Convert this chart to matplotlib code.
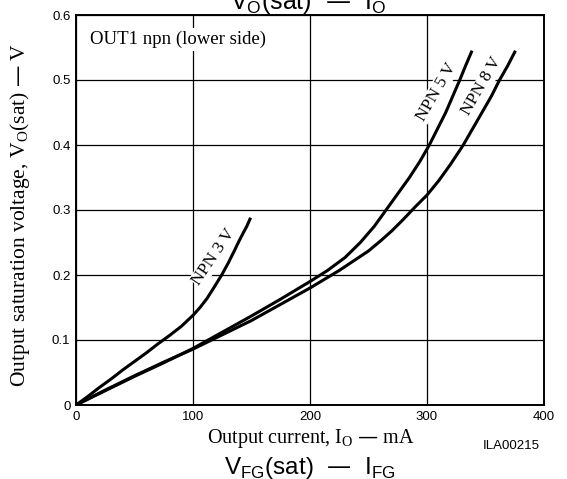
"""
VO(sat) - IO characteristic, OUT1 npn (lower side).
"""
import matplotlib
matplotlib.use("Agg")
import matplotlib.pyplot as plt

# -- Data ----------------------------------------------------------------------
I_3V = [0, 10, 20, 30, 40, 50, 60, 70, 80, 90, 100, 106, 112, 118, 124.5,
        130, 135, 139, 143, 146, 148.7]
V_3V = [0, 0.013, 0.027, 0.040, 0.054, 0.067, 0.080, 0.094, 0.107, 0.121,
        0.138, 0.150, 0.164, 0.181, 0.200, 0.218, 0.236, 0.251, 0.265, 0.275, 0.286]

I_5V = [0, 25, 50, 75, 100, 125, 150, 175, 200, 215, 230, 243, 255, 265, 275,
        285, 294, 302, 309, 316, 322, 328, 333, 338]
V_5V = [0, 0.022, 0.044, 0.065, 0.087, 0.112, 0.137, 0.163, 0.190, 0.207,
        0.227, 0.250, 0.275, 0.300, 0.325, 0.350, 0.375, 0.400, 0.425, 0.450,
        0.475, 0.500, 0.522, 0.543]

I_8V = [0, 25, 50, 75, 100, 125, 150, 175, 200, 225, 250, 260, 270, 280, 290,
        300, 310, 320, 331, 339, 347, 355, 362, 369, 375]
V_8V = [0, 0.023, 0.045, 0.066, 0.086, 0.108, 0.130, 0.155, 0.180, 0.207,
        0.237, 0.252, 0.268, 0.286, 0.305, 0.323, 0.345, 0.370, 0.400, 0.425,
        0.450, 0.475, 0.500, 0.522, 0.543]

X_TICKS = [0, 100, 200, 300, 400]
Y_TICKS = [0, 0.1, 0.2, 0.3, 0.4, 0.5, 0.6]
Y_TICK_LABELS = ["0", "0.1", "0.2", "0.3", "0.4", "0.5", "0.6"]

SERIF = "Liberation Serif"
SANS = "Liberation Sans"

# -- Plot ----------------------------------------------------------------------
fig = plt.figure(figsize=(5.67, 4.79), dpi=100)
ax = fig.add_axes([76 / 567, 1 - 405 / 479, 468 / 567, 390 / 479])

ax.set_xlim(0, 400)
ax.set_ylim(0, 0.6)
ax.set_xticks(X_TICKS)
ax.set_xticklabels([str(t) for t in X_TICKS], fontfamily=SANS, fontsize=9.5)
ax.set_yticks(Y_TICKS)
ax.set_yticklabels(Y_TICK_LABELS, fontfamily=SANS, fontsize=9.5)
ax.tick_params(length=0, pad=4)
ax.grid(True, color="black", linewidth=0.9, zorder=0)
ax.set_axisbelow(True)
for s in ax.spines.values():
    s.set_linewidth(1.4)

for I, V in [(I_3V, V_3V), (I_5V, V_5V), (I_8V, V_8V)]:
    ax.plot(I, V, color="black", linewidth=2.2, solid_joinstyle="round", zorder=3)

lab_box = dict(facecolor="white", edgecolor="none", pad=0.5)
ax.text(118, 0.228, "NPN 3 V", rotation=56, ha="center", va="center",
        fontfamily=SERIF, fontsize=12.5, bbox=lab_box, zorder=2)
ax.text(308, 0.482, "NPN 5 V", rotation=60, ha="center", va="center",
        fontfamily=SERIF, fontsize=12.5, bbox=lab_box, zorder=2)
ax.text(347, 0.490, "NPN 8 V", rotation=60, ha="center", va="center",
        fontfamily=SERIF, fontsize=12.5, bbox=lab_box, zorder=2)

ax.text(0.030, 0.926, "OUT1 npn (lower side)", transform=ax.transAxes,
        ha="left", va="baseline", fontfamily=SERIF, fontsize=13.5,
        bbox=dict(facecolor="white", edgecolor="none", pad=2), zorder=2)

fig.text(311 / 567, 1 - 439 / 479, "Output current, I$_\\mathregular{O}$ — mA",
         ha="center", va="center", fontfamily=SERIF, fontsize=14.5)
fig.text(20 / 567, 1 - 215 / 479,
         "Output saturation voltage, V$_\\mathregular{O}$(sat) — V",
         ha="center", va="center", rotation=90, fontfamily=SERIF, fontsize=15.5)

fig.text(511 / 567, 1 - 446 / 479, "ILA00215", ha="center", va="center",
         fontfamily=SANS, fontsize=9.5)
fig.text(310 / 567, 1 - 474 / 479, "V$_\\mathregular{FG}$(sat)  —  I$_\\mathregular{FG}$",
         ha="center", va="baseline", fontfamily=SANS, fontsize=17.5)
fig.text(308 / 567, 1 - 9 / 479, "V$_\\mathregular{O}$(sat)  —  I$_\\mathregular{O}$",
         ha="center", va="baseline", fontfamily=SANS, fontsize=18)

fig.savefig("out.png", dpi=100, facecolor="white")
